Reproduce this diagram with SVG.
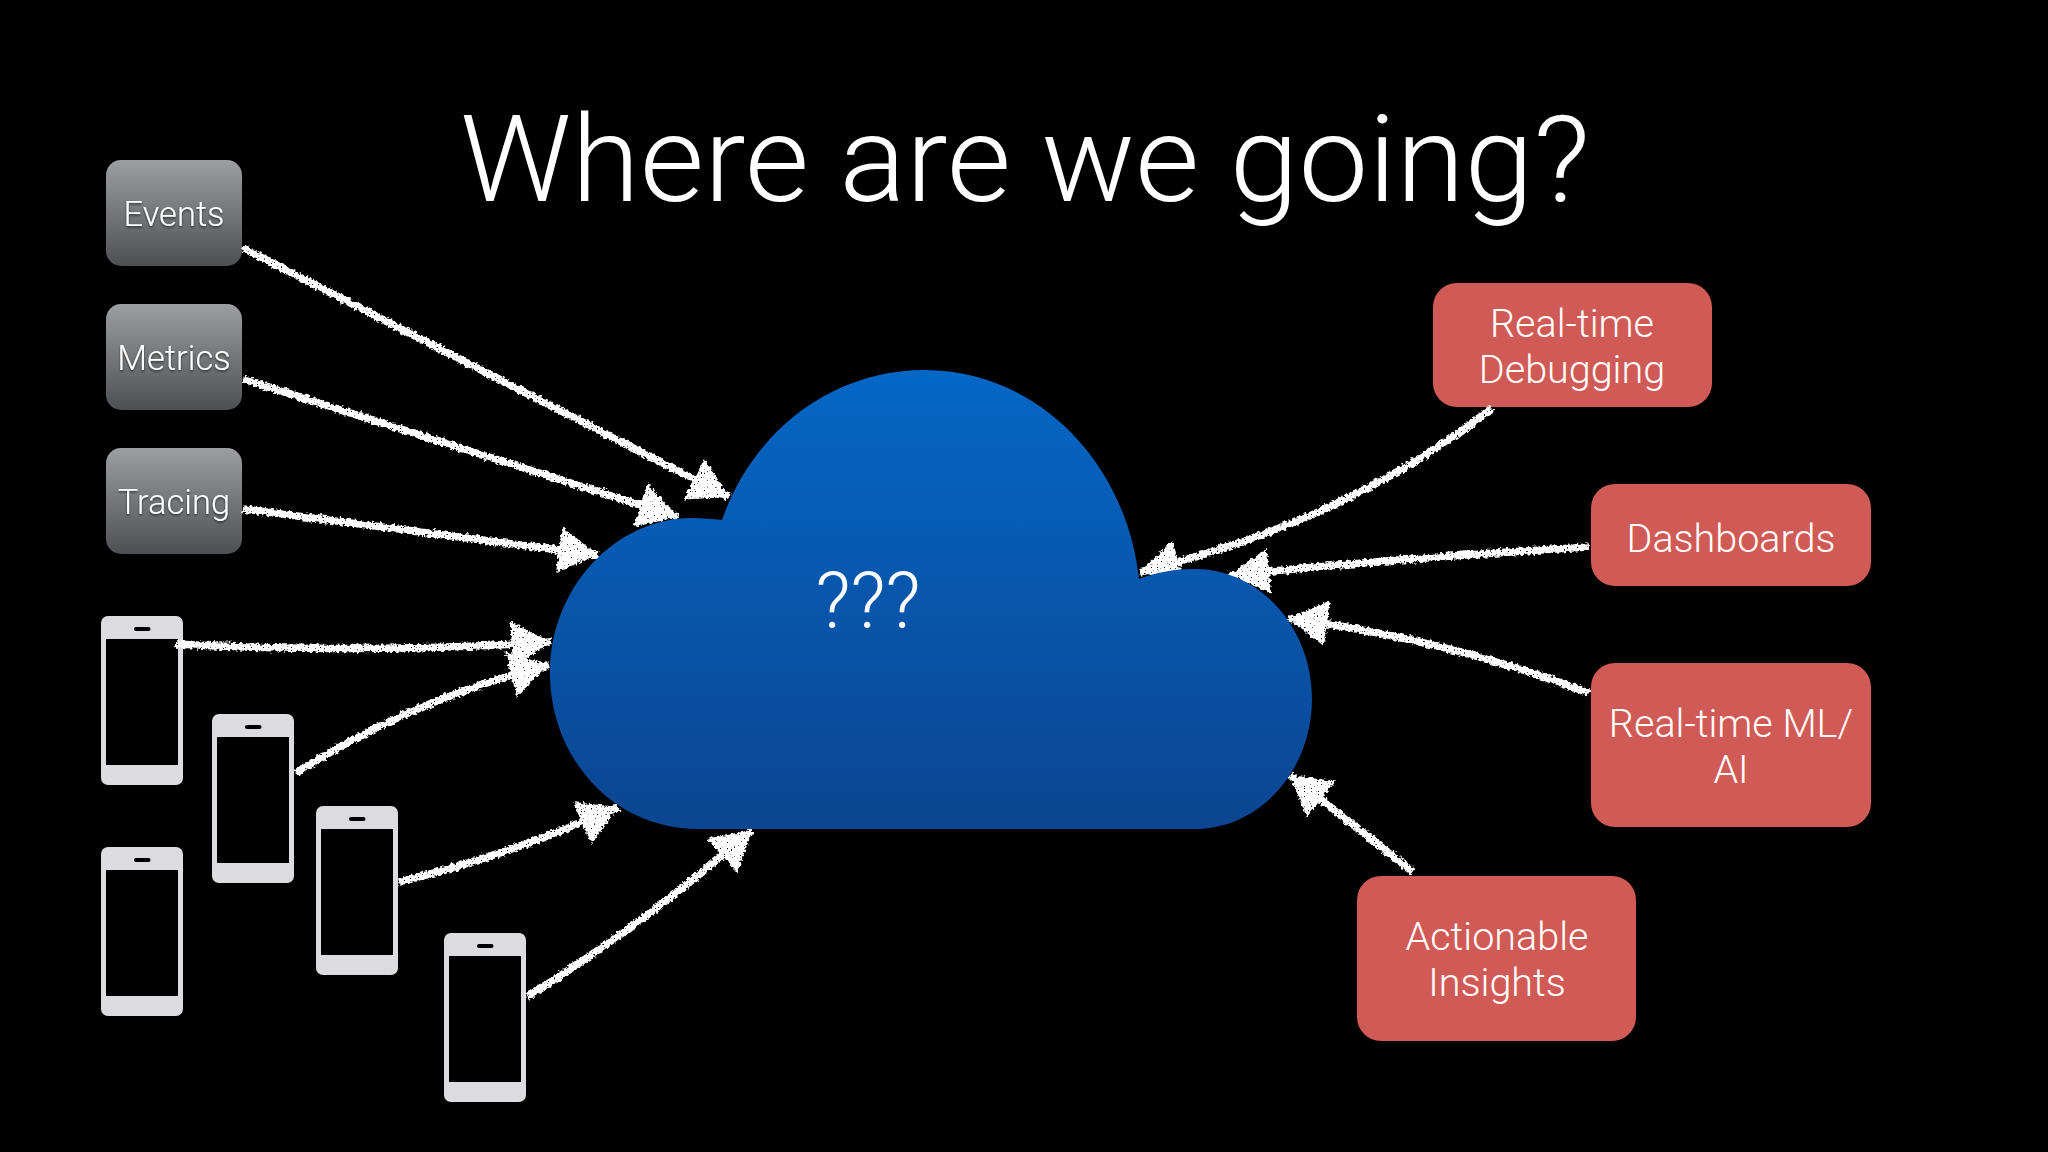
<svg xmlns="http://www.w3.org/2000/svg" width="2048" height="1152" viewBox="0 0 2048 1152">
<style>
text{font-family:"Roboto","Liberation Sans",sans-serif;font-weight:300;fill:#fff;text-anchor:middle}
.lbl{font-size:39.500px}
.gl{font-size:34.500px;filter:url(#ts)}
.box{fill:url(#gray)}
.red{fill:#d05b56}
.ph{fill:#dcdcde}
.sc{fill:#000}
.arr{fill:none;stroke:#fff;stroke-width:7.500;stroke-linecap:butt;marker-end:url(#head)}
</style>
<defs>
<linearGradient id="gray" x1="0" y1="0" x2="0" y2="1"><stop offset="0" stop-color="#9c9e9f"/><stop offset="1" stop-color="#4e4f52"/></linearGradient>
<linearGradient id="blue" x1="0" y1="0" x2="0" y2="1"><stop offset="0" stop-color="#0467c6"/><stop offset="1" stop-color="#0c4591"/></linearGradient>
<filter id="ts" x="-10%" y="-10%" width="120%" height="130%"><feDropShadow dx="0" dy="1.5" stdDeviation="0.8" flood-color="#000" flood-opacity="0.6"/></filter>
<filter id="chalk" filterUnits="userSpaceOnUse" x="0" y="0" width="2048" height="1152">
<feTurbulence type="fractalNoise" baseFrequency="0.3" numOctaves="2" seed="4" result="n"/>
<feDisplacementMap in="SourceGraphic" in2="n" scale="6" xChannelSelector="R" yChannelSelector="G" result="d"/>
<feTurbulence type="fractalNoise" baseFrequency="0.7" numOctaves="1" seed="9" result="s"/>
<feColorMatrix in="s" type="matrix" values="0 0 0 0 0 0 0 0 0 0 0 0 0 0 0 0 0 0 -14 10.400" result="h"/>
<feComposite in="d" in2="h" operator="in"/>
</filter>
<marker id="head" markerUnits="userSpaceOnUse" markerWidth="44" markerHeight="48" refX="36" refY="22" orient="auto" viewBox="0 0 40 44"><path d="M0 1L36 22L0 43Z" fill="#fff"/></marker>
<g id="phone"><rect width="82" height="169" rx="7" class="ph"/><rect x="5" y="23" width="72" height="126" class="sc"/><rect x="33" y="11" width="16.500" height="4" rx="2" class="sc"/></g>
</defs>
<rect width="2048" height="1152" fill="#000"/>
<text id="title" x="1025" y="201" style="font-size:120px" textLength="1130" lengthAdjust="spacingAndGlyphs">Where are we going?</text>
<g id="n-events"><rect class="box" x="106" y="160" width="136" height="106" rx="15"/><text class="gl" x="174" y="226">Events</text></g>
<g id="n-metrics"><rect class="box" x="106" y="304" width="136" height="106" rx="15"/><text class="gl" x="174" y="370">Metrics</text></g>
<g id="n-tracing"><rect class="box" x="106" y="448" width="136" height="106" rx="15"/><text class="gl" x="174" y="514">Tracing</text></g>
<g id="n-phone1"><use href="#phone" x="101" y="616"/></g>
<g id="n-phone2"><use href="#phone" x="212" y="714"/></g>
<g id="n-phone3"><use href="#phone" x="316" y="806"/></g>
<g id="n-phone4"><use href="#phone" x="101" y="847"/></g>
<g id="n-phone5"><use href="#phone" x="444" y="933"/></g>
<g id="n-debugging"><rect class="red" x="1433" y="283" width="279" height="124" rx="24"/><text class="lbl" x="1572" y="337">Real-time</text><text class="lbl" x="1572" y="383">Debugging</text></g>
<g id="n-dashboards"><rect class="red" x="1591" y="484" width="280" height="102" rx="24"/><text class="lbl" x="1731" y="552">Dashboards</text></g>
<g id="n-ml"><rect class="red" x="1591" y="663" width="280" height="164" rx="24"/><text class="lbl" x="1731" y="737">Real-time ML/</text><text class="lbl" x="1731" y="783">AI</text></g>
<g id="n-insights"><rect class="red" x="1357" y="876" width="279" height="165" rx="24"/><text class="lbl" x="1497" y="950">Actionable</text><text class="lbl" x="1497" y="996">Insights</text></g>
<g id="connectors" filter="url(#chalk)">
<path class="arr" d="M243 248L729 497"/>
<path class="arr" d="M243 379L678 517"/>
<path class="arr" d="M243 509L598 555"/>
<path class="arr" d="M176 644Q360 654 551 642"/>
<path class="arr" d="M296 773Q410 700 549 665"/>
<path class="arr" d="M399 882Q510 855 618 807"/>
<path class="arr" d="M527 997Q650 920 752 830"/>
<path class="arr" d="M1492 408Q1350 520 1140 572"/>
<path class="arr" d="M1589 547Q1400 558 1230 575"/>
<path class="arr" d="M1589 693Q1450 640 1288 618"/>
<path class="arr" d="M1413 872L1290 775"/>
</g>
<g id="cloud"><path fill="url(#blue)" d="M699 829C610 829 550 755 550 673C550 588 615 518 692 518C703 518 713 519 722 520C752 433 830 370 925 370C1035 370 1126 460 1139 579C1157 572 1175 569 1195 569C1259 569 1312 627 1312 699C1312 771 1259 829 1195 829Z"/><text x="868" y="628" style="font-size:77px">???</text></g>
</svg>
